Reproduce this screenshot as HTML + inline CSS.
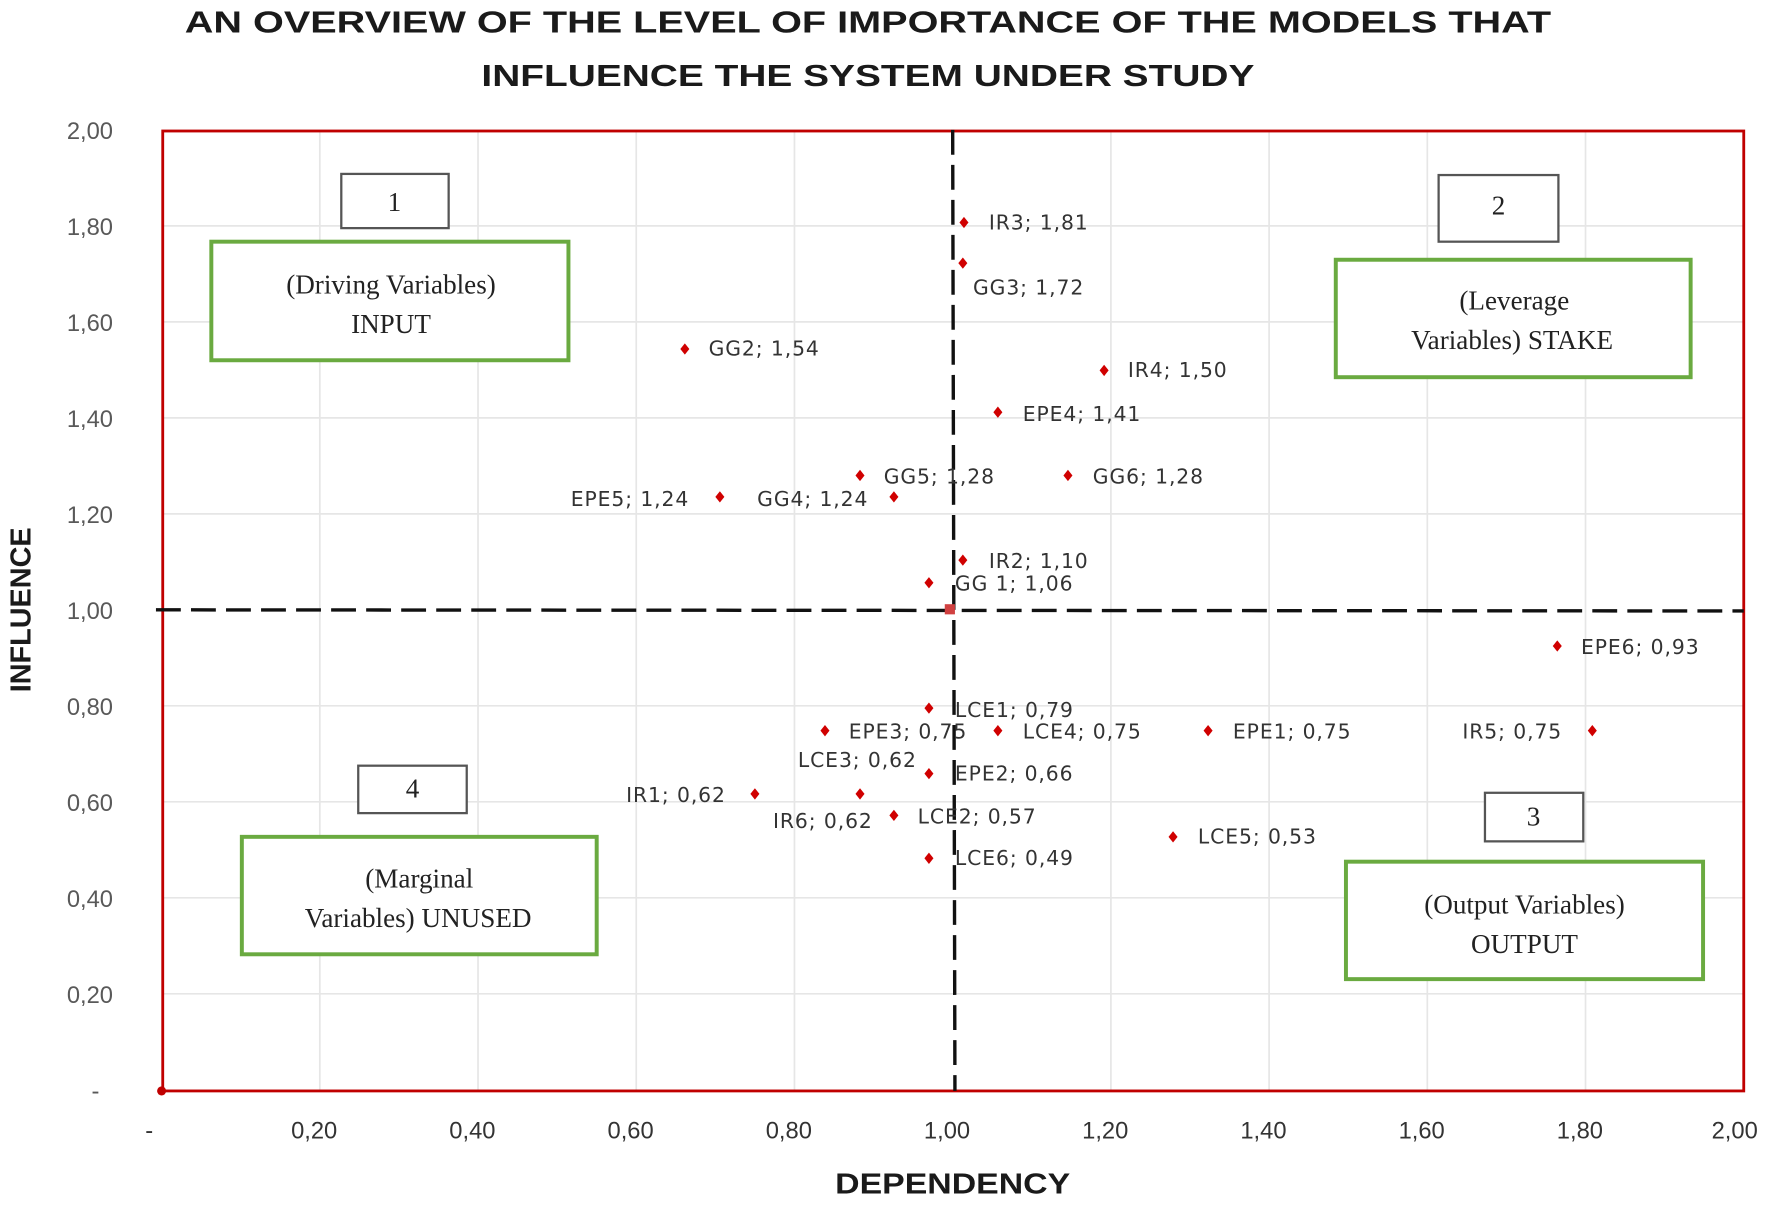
<!DOCTYPE html>
<html><head><meta charset="utf-8"><style>html,body{margin:0;padding:0;background:#fff}svg{display:block}</style></head>
<body>
<svg width="1772" height="1205" viewBox="0 0 1568 1067" preserveAspectRatio="none" xmlns="http://www.w3.org/2000/svg">
<rect width="1568" height="1067" fill="#fff"/>
<g font-family="Liberation Sans, sans-serif" font-weight="bold" font-size="27" fill="#1a1a1a" text-anchor="middle">
<text x="768" y="29" textLength="1209" lengthAdjust="spacingAndGlyphs">AN OVERVIEW OF THE LEVEL OF IMPORTANCE OF THE MODELS THAT</text>
<text x="768" y="76" textLength="684" lengthAdjust="spacingAndGlyphs">INFLUENCE THE SYSTEM UNDER STUDY</text>
</g>
<g stroke="#e6e6e6" stroke-width="1.5">
<line x1="283" y1="115" x2="283" y2="966"/><line x1="423" y1="115" x2="423" y2="966"/><line x1="563" y1="115" x2="563" y2="966"/><line x1="703" y1="115" x2="703" y2="966"/><line x1="983" y1="115" x2="983" y2="966"/><line x1="1123" y1="115" x2="1123" y2="966"/><line x1="1263" y1="115" x2="1263" y2="966"/><line x1="1403" y1="115" x2="1403" y2="966"/>
<line x1="143" y1="200" x2="1543" y2="200"/><line x1="143" y1="285" x2="1543" y2="285"/><line x1="143" y1="370" x2="1543" y2="370"/><line x1="143" y1="455" x2="1543" y2="455"/><line x1="143" y1="625" x2="1543" y2="625"/><line x1="143" y1="710" x2="1543" y2="710"/><line x1="143" y1="795" x2="1543" y2="795"/><line x1="143" y1="880" x2="1543" y2="880"/>
</g>
<rect x="144" y="116" width="1399" height="850" fill="none" stroke="#c00000" stroke-width="2.5"/>
<line x1="843" y1="115" x2="845" y2="966" stroke="#111" stroke-width="3" stroke-dasharray="22,9"/>
<line x1="138" y1="540" x2="1543" y2="541" stroke="#111" stroke-width="3" stroke-dasharray="22,9"/>
<rect x="836" y="535" width="9" height="9" fill="#d04040"/>
<circle cx="143" cy="966" r="4" fill="#c00000"/>
<g font-family="Liberation Sans, sans-serif" font-size="21" fill="#595959" text-anchor="end">
<text x="100" y="123">2,00</text><text x="100" y="208">1,80</text><text x="100" y="293">1,60</text><text x="100" y="378">1,40</text><text x="100" y="463">1,20</text><text x="100" y="548">1,00</text><text x="100" y="633">0,80</text><text x="100" y="718">0,60</text><text x="100" y="803">0,40</text><text x="100" y="888">0,20</text><text x="88" y="973">-</text>
</g>
<g font-family="Liberation Sans, sans-serif" font-size="21" fill="#333" text-anchor="middle">
<text x="132" y="1008">-</text><text x="278" y="1008">0,20</text><text x="418" y="1008">0,40</text><text x="558" y="1008">0,60</text><text x="698" y="1008">0,80</text><text x="838" y="1008">1,00</text><text x="978" y="1008">1,20</text><text x="1118" y="1008">1,40</text><text x="1258" y="1008">1,60</text><text x="1398" y="1008">1,80</text><text x="1535" y="1008">2,00</text>
</g>
<g font-family="Liberation Sans, sans-serif" font-weight="bold" font-size="25" fill="#1a1a1a" text-anchor="middle">
<text x="843" y="1057" textLength="208" lengthAdjust="spacingAndGlyphs">DEPENDENCY</text>
<text transform="translate(27,540) rotate(-90)" textLength="146" lengthAdjust="spacingAndGlyphs">INFLUENCE</text>
</g>
<g fill="#fff" stroke-width="2">
<rect x="302" y="154" width="95" height="48" stroke="#555"/>
<rect x="1273" y="155" width="106" height="59" stroke="#555"/>
<rect x="317" y="678" width="96" height="42" stroke="#555"/>
<rect x="1314" y="702" width="87" height="43" stroke="#555"/>
<rect x="187" y="214" width="316" height="105" stroke="#6aaa40" stroke-width="3.5"/>
<rect x="1182" y="230" width="314" height="104" stroke="#6aaa40" stroke-width="3.5"/>
<rect x="214" y="741" width="314" height="104" stroke="#6aaa40" stroke-width="3.5"/>
<rect x="1191" y="763" width="316" height="104" stroke="#6aaa40" stroke-width="3.5"/>
</g>
<g font-family="Liberation Serif, serif" font-size="24" fill="#222" text-anchor="middle">
<text x="349" y="187">1</text><text x="1326" y="190">2</text><text x="365" y="706">4</text><text x="1357" y="731">3</text>
<text x="346" y="260">(Driving Variables)</text><text x="346" y="295">INPUT</text>
<text x="1340" y="274">(Leverage</text><text x="1338" y="309">Variables) STAKE</text>
<text x="371" y="786">(Marginal</text><text x="370" y="821">Variables) UNUSED</text>
<text x="1349" y="809">(Output  Variables)</text><text x="1349" y="844">OUTPUT</text>
</g>
<g fill="#d00000">
<path d="M853 192l4 5l-4 5l-4-5z"/><path d="M852 228l4 5l-4 5l-4-5z"/><path d="M606 304l4 5l-4 5l-4-5z"/><path d="M977 323l4 5l-4 5l-4-5z"/><path d="M883 360l4 5l-4 5l-4-5z"/><path d="M761 416l4 5l-4 5l-4-5z"/><path d="M945 416l4 5l-4 5l-4-5z"/><path d="M637 435l4 5l-4 5l-4-5z"/><path d="M791 435l4 5l-4 5l-4-5z"/><path d="M852 491l4 5l-4 5l-4-5z"/><path d="M822 511l4 5l-4 5l-4-5z"/><path d="M1378 567l4 5l-4 5l-4-5z"/><path d="M822 622l4 5l-4 5l-4-5z"/><path d="M730 642l4 5l-4 5l-4-5z"/><path d="M883 642l4 5l-4 5l-4-5z"/><path d="M1069 642l4 5l-4 5l-4-5z"/><path d="M1409 642l4 5l-4 5l-4-5z"/><path d="M822 680l4 5l-4 5l-4-5z"/><path d="M668 698l4 5l-4 5l-4-5z"/><path d="M761 698l4 5l-4 5l-4-5z"/><path d="M791 717l4 5l-4 5l-4-5z"/><path d="M1038 736l4 5l-4 5l-4-5z"/><path d="M822 755l4 5l-4 5l-4-5z"/>
</g>
<g font-family="DejaVu Sans, sans-serif" font-size="18" letter-spacing="0.8" fill="#333">
<text x="875" y="203">IR3; 1,81</text><text x="861" y="261">GG3; 1,72</text><text x="627" y="315">GG2; 1,54</text><text x="998" y="334">IR4; 1,50</text><text x="905" y="373">EPE4; 1,41</text><text x="782" y="428">GG5; 1,28</text><text x="967" y="428">GG6; 1,28</text><text x="505" y="448">EPE5; 1,24</text><text x="670" y="448">GG4; 1,24</text><text x="875" y="503">IR2; 1,10</text><text x="845" y="523">GG 1; 1,06</text><text x="1399" y="579">EPE6; 0,93</text><text x="845" y="635">LCE1; 0,79</text><text x="751" y="654">EPE3; 0,75</text><text x="905" y="654">LCE4; 0,75</text><text x="1091" y="654">EPE1; 0,75</text><text x="1294" y="654">IR5; 0,75</text><text x="706" y="679">LCE3; 0,62</text><text x="845" y="691">EPE2; 0,66</text><text x="554" y="710">IR1; 0,62</text><text x="684" y="733">IR6; 0,62</text><text x="812" y="729">LCE2; 0,57</text><text x="1060" y="747">LCE5; 0,53</text><text x="845" y="766">LCE6; 0,49</text>
</g>
</svg>
</body></html>
